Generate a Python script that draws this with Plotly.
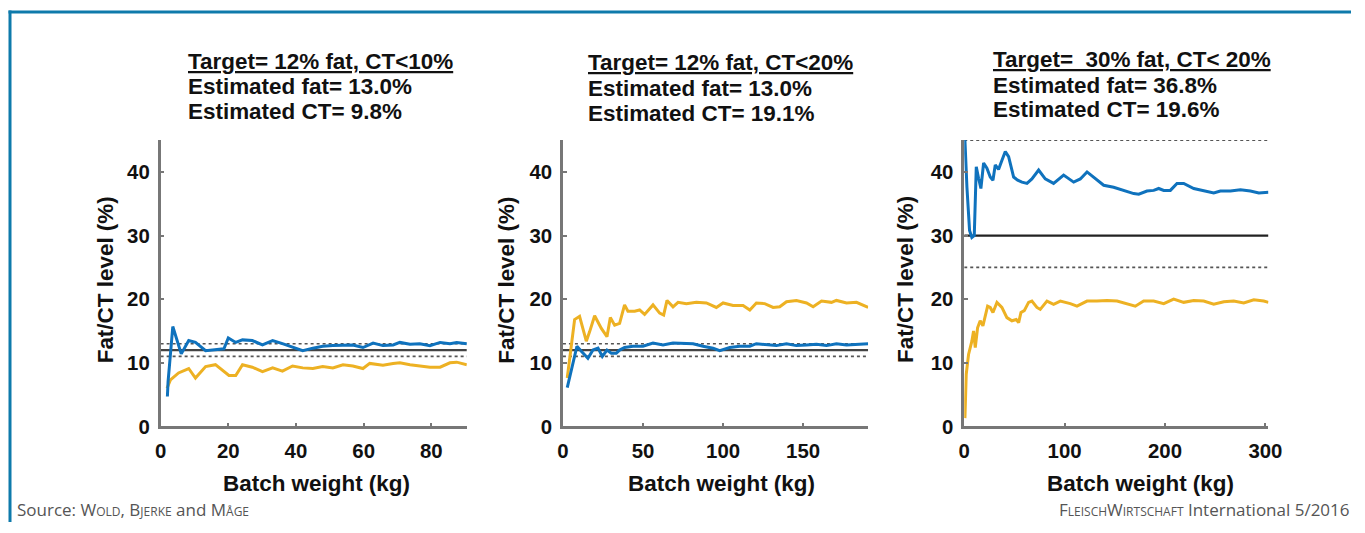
import plotly.graph_objects as go

W, H = 1365, 533

# ---------------- data ----------------
p1_fat_x = [2.0, 2.2, 3.6, 6.1, 8.3, 10.3, 13.3, 16.2, 18.7, 20.0, 22.2, 24.2, 27.1, 30.1, 33.1, 36.0, 39.0, 42.0, 45.0, 47.9, 50.9, 53.9, 56.8, 59.8, 62.8, 65.7, 68.7, 70.7, 73.7, 76.6, 79.6, 82.6, 85.5, 87.5, 90.5]
p1_fat_y = [4.7, 7.0, 15.7, 11.4, 13.5, 13.2, 11.9, 12.0, 12.2, 13.9, 13.2, 13.6, 13.5, 12.8, 13.5, 13.0, 12.4, 11.9, 12.3, 12.6, 12.7, 12.7, 12.8, 12.4, 13.1, 12.7, 12.8, 13.2, 12.9, 13.0, 12.7, 13.2, 13.0, 13.2, 13.0]
p1_ct_x = [1.9, 2.9, 5.3, 8.3, 10.3, 13.3, 16.2, 18.2, 20.2, 22.2, 24.2, 27.1, 30.1, 33.1, 36.0, 39.0, 42.0, 45.0, 47.9, 50.9, 53.9, 56.8, 59.8, 61.8, 65.7, 68.7, 70.7, 73.7, 76.6, 79.6, 82.6, 85.5, 87.5, 90.5]
p1_ct_y = [6.0, 7.3, 8.4, 9.1, 7.6, 9.4, 9.7, 8.9, 8.0, 8.0, 9.7, 9.3, 8.6, 9.2, 8.7, 9.5, 9.2, 9.1, 9.4, 9.2, 9.7, 9.5, 9.1, 9.9, 9.6, 9.9, 10.0, 9.7, 9.5, 9.3, 9.3, 10.0, 10.1, 9.7]

p2_fat_x = [2.7, 5.2, 8.75, 11.5, 15.6, 18.75, 21.9, 24.6, 27.5, 30.2, 33.3, 35.4, 38.5, 43.75, 50.0, 56.25, 62.5, 68.75, 75.0, 81.25, 87.5, 93.75, 97.9, 104.2, 110.4, 116.7, 120.8, 127.1, 133.3, 139.6, 145.8, 152.1, 158.3, 164.6, 170.8, 177.1, 183.3, 190.6]
p2_fat_y = [6.1, 8.6, 12.6, 11.8, 10.7, 12.0, 12.3, 11.0, 12.0, 11.5, 11.5, 12.0, 12.4, 12.6, 12.6, 13.1, 12.8, 13.1, 13.0, 13.0, 12.6, 12.3, 11.9, 12.4, 12.6, 12.6, 13.0, 12.8, 12.7, 13.0, 12.7, 12.8, 12.9, 12.7, 13.0, 12.8, 12.9, 13.0]
p2_ct_x = [2.7, 5.2, 7.3, 10.4, 14.6, 16.7, 19.8, 24.0, 27.5, 29.6, 32.3, 35.4, 38.5, 40.6, 44.8, 47.9, 51.0, 56.25, 60.4, 62.9, 65.0, 68.75, 71.9, 77.1, 83.3, 89.6, 95.8, 100.0, 106.25, 112.5, 116.7, 120.8, 126.0, 131.25, 135.4, 139.6, 145.8, 152.1, 156.25, 161.5, 167.7, 170.8, 177.1, 183.3, 190.6]
p2_ct_y = [7.6, 12.3, 16.8, 17.3, 13.4, 14.9, 17.4, 15.4, 14.1, 17.1, 15.9, 16.2, 19.1, 18.1, 18.1, 18.3, 17.6, 19.1, 17.8, 17.5, 19.8, 18.8, 19.5, 19.3, 19.5, 19.4, 18.7, 19.4, 19.0, 19.0, 18.3, 19.4, 19.3, 18.7, 18.8, 19.6, 19.8, 19.4, 18.8, 19.7, 19.5, 19.8, 19.4, 19.5, 18.7]

p3_fat_x = [0.7, 2.7, 5.3, 7.6, 10.0, 12.0, 14.3, 16.6, 19.3, 22.6, 25.9, 28.6, 30.9, 34.2, 37.5, 40.9, 44.2, 49.2, 53.2, 57.5, 62.5, 67.4, 74.1, 80.7, 89.0, 99.0, 109.0, 115.6, 122.3, 128.9, 138.9, 148.8, 158.8, 168.8, 173.8, 182.0, 188.7, 193.7, 198.7, 205.3, 211.9, 218.6, 228.6, 238.5, 248.5, 255.1, 265.1, 275.1, 285.0, 293.4, 303.0]
p3_fat_y = [45.0, 37.6, 30.8, 29.7, 30.0, 40.8, 39.0, 37.4, 41.4, 40.6, 39.2, 38.7, 41.1, 40.4, 41.8, 43.2, 42.4, 39.2, 38.7, 38.4, 38.2, 38.9, 40.3, 38.9, 38.2, 39.5, 38.4, 38.9, 40.0, 39.2, 37.9, 37.6, 37.1, 36.6, 36.5, 37.0, 37.1, 37.4, 37.1, 37.1, 38.2, 38.2, 37.4, 37.1, 36.7, 37.0, 37.0, 37.2, 37.0, 36.7, 36.8]
p3_ct_x = [0.7, 2.0, 4.3, 7.6, 9.3, 11.0, 13.3, 15.9, 18.6, 20.9, 23.3, 25.9, 28.6, 32.6, 37.5, 42.5, 47.5, 51.8, 54.2, 56.5, 59.8, 64.1, 67.4, 72.4, 75.7, 82.4, 89.0, 95.7, 105.6, 112.3, 122.3, 132.2, 142.2, 152.2, 162.1, 170.4, 178.7, 188.7, 198.7, 208.6, 218.6, 228.6, 238.5, 248.5, 258.5, 268.4, 278.4, 288.4, 298.3, 303.0]
p3_ct_y = [1.3, 8.2, 11.3, 13.4, 15.0, 12.4, 15.5, 16.6, 15.8, 17.6, 18.9, 18.7, 17.9, 19.5, 18.7, 17.1, 16.6, 16.8, 16.3, 17.9, 18.2, 19.5, 19.7, 18.7, 18.4, 19.7, 19.2, 19.7, 19.3, 18.9, 19.7, 19.7, 19.8, 19.7, 19.3, 18.9, 19.7, 19.7, 19.3, 20.0, 19.5, 19.8, 19.7, 19.2, 19.6, 19.7, 19.4, 19.9, 19.7, 19.5]

x_ranges = [90.5, 190.6, 303.0]
x_dticks = [20, 50, 100]
target_lines = [12, 12, 30]
dotted_lines = [[11, 13], [11, 13], [25, 45]]
title_lines = [
    ["Target= 12% fat, CT<10%", "Estimated fat= 13.0%", "Estimated CT= 9.8%"],
    ["Target= 12% fat, CT<20%", "Estimated fat= 13.0%", "Estimated CT= 19.1%"],
    ["Target=  30% fat, CT< 20%", "Estimated fat= 36.8%", "Estimated CT= 19.6%"],
]
y_title = "Fat/CT level (%)"
x_title = "Batch weight (kg)"

# ---------------- layout geometry (reference pixels) ----------------
px_left = [161, 563, 964]
px_right = [467, 868, 1268]
py_top, py_bot = 140, 425
title_left = [186, 586, 991]
title_y = [[62, 87, 112], [63, 89, 113], [60, 86, 110]]
ytitle_x = [106, 507, 906]
ytitle_y = 279
xtitle_x = [317, 721, 1140]
xtitle_y = 482

# the photographed page comes back slightly shrunk/shifted; map reference pixels accordingly
SX, OX = 0.9846, 6.5
SY, OY = 0.975, 0.5
FS = 1 / 0.98

def fx(px):
    return ((px - OX) / SX) / W

def fy(py):
    return 1 - ((py - OY) / SY) / H

BLUE = "#0F72BD"
YELLOW = "#EDB123"
AXIS = "#777777"
FONT = "Liberation Sans, Arial, sans-serif"

fig = go.Figure()
series = [
    (p1_fat_x, p1_fat_y, p1_ct_x, p1_ct_y),
    (p2_fat_x, p2_fat_y, p2_ct_x, p2_ct_y),
    (p3_fat_x, p3_fat_y, p3_ct_x, p3_ct_y),
]

annotations = []
shapes = []
for i, (fxs, fys, cxs, cys) in enumerate(series):
    n = "" if i == 0 else str(i + 1)
    xa, ya = "x" + n, "y" + n
    for d in dotted_lines[i]:
        fig.add_trace(go.Scatter(x=[0, x_ranges[i]], y=[d, d], mode="lines",
                                 line=dict(color="#555555", width=1.6, dash="dot"),
                                 xaxis=xa, yaxis=ya, showlegend=False, hoverinfo="skip"))
    fig.add_trace(go.Scatter(x=[0, x_ranges[i]], y=[target_lines[i]] * 2, mode="lines",
                             line=dict(color="#444444" if i < 2 else "#222222", width=2.2),
                             xaxis=xa, yaxis=ya, showlegend=False, hoverinfo="skip"))
    fig.add_trace(go.Scatter(x=cxs, y=cys, mode="lines", line=dict(color=YELLOW, width=3),
                             xaxis=xa, yaxis=ya, showlegend=False))
    fig.add_trace(go.Scatter(x=fxs, y=fys, mode="lines", line=dict(color=BLUE, width=3),
                             xaxis=xa, yaxis=ya, showlegend=False))

    axis_common = dict(showline=True, linecolor=AXIS, linewidth=2.5, ticks="inside",
                       ticklen=4, tickwidth=1.5, tickcolor=AXIS, showgrid=False,
                       zeroline=False, fixedrange=True,
                       tickfont=dict(family=FONT, size=20 * FS, color="#111111", weight="bold"))
    fig.update_layout(**{
        "xaxis" + n: dict(domain=[fx(px_left[i]), fx(px_right[i])], range=[0, x_ranges[i]],
                          dtick=x_dticks[i], tick0=0, anchor=ya, ticklabelstandoff=4,
                          **axis_common),
        "yaxis" + n: dict(domain=[fy(py_bot), fy(py_top)], range=[0, 45], dtick=10, tick0=0,
                          anchor=xa, ticklabelstandoff=4, **axis_common),
    })

    for k, t in enumerate(title_lines[i]):
        txt = f"<u>{t}</u>" if k == 0 else t
        annotations.append(dict(text=txt, x=fx(title_left[i]), y=fy(title_y[i][k]),
                                xref="paper", yref="paper", xanchor="left", yanchor="middle",
                                showarrow=False,
                                font=dict(family=FONT, size=22 * FS, color="#111111", weight="bold")))
    annotations.append(dict(text=y_title, x=fx(ytitle_x[i]), y=fy(ytitle_y),
                            xref="paper", yref="paper", xanchor="center", yanchor="middle",
                            textangle=-90, showarrow=False,
                            font=dict(family=FONT, size=22 * FS, color="#111111", weight="bold")))
    annotations.append(dict(text=x_title, x=fx(xtitle_x[i]), y=fy(xtitle_y),
                            xref="paper", yref="paper", xanchor="center", yanchor="middle",
                            showarrow=False,
                            font=dict(family=FONT, size=22 * FS, color="#111111", weight="bold")))

sc = "font-size:12px"
annotations.append(dict(
    text=f"Source: W<span style='{sc}'>OLD</span>, B<span style='{sc}'>JERKE</span> and M<span style='{sc}'>ÅGE</span>",
    x=fx(16), y=0, xref="paper", yref="paper", xanchor="left", yanchor="bottom",
    showarrow=False, borderpad=0,
    font=dict(family="Open Sans, sans-serif", size=17, color="#555555")))
annotations.append(dict(
    text=f"F<span style='{sc}'>LEISCH</span>W<span style='{sc}'>IRTSCHAFT</span> International 5/2016",
    x=1.0, y=0, xref="paper", yref="paper", xanchor="right", yanchor="bottom",
    showarrow=False, borderpad=0,
    font=dict(family="Open Sans, sans-serif", size=17, color="#555555")))

shapes.append(dict(type="line", xref="paper", yref="paper", x0=fx(9), x1=1.0,
                   y0=fy(12.5), y1=fy(12.5), line=dict(color="#0E7AAB", width=3)))
shapes.append(dict(type="line", xref="paper", yref="paper", x0=fx(10.5), x1=fx(10.5),
                   y0=fy(11), y1=0, line=dict(color="#0E7AAB", width=3)))

fig.update_layout(width=W, height=H, margin=dict(l=0, r=0, t=0, b=0),
                  paper_bgcolor="white", plot_bgcolor="white",
                  annotations=annotations, shapes=shapes, showlegend=False)

fig.write_html("out.html", config={"displayModeBar": False})
